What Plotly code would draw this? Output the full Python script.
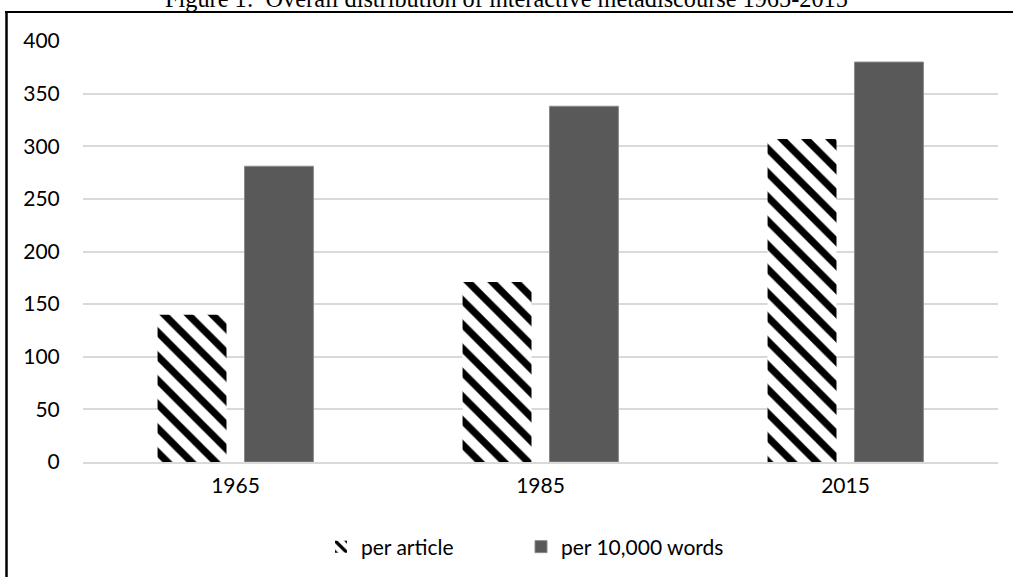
import plotly.graph_objects as go

years = ["1965", "1985", "2015"]
per_article = [140, 171, 307]
per_10000_words = [281, 338, 380]
y_ticks = [0, 50, 100, 150, 200, 250, 300, 350, 400]
title_text = "Figure 1:  Overall distribution of interactive metadiscourse 1965-2015"

W, H = 1013, 577
L, R, T, B = 83, 15, 41, 577 - 462
pw, ph = W - L - R, H - T - B

def px_x(wx):
    return (wx - L) / pw

def px_y(wy):
    return (H - B - wy) / ph

font = "Lato"
fs = 21

fig = go.Figure()
fig.add_trace(go.Bar(
    x=years, y=per_article, name="per article", legend="legend",
    marker=dict(color="white", line=dict(width=0),
                pattern=dict(shape="\\", size=17, solidity=0.42,
                             fgcolor="black", bgcolor="white", fillmode="replace")),
))
fig.add_trace(go.Bar(
    x=years, y=per_10000_words, name="per 10,000 words", legend="legend2",
    marker=dict(color="#595959", line=dict(width=1, color="#8a8a8a")),
))

legend_common = dict(orientation="h", yanchor="middle", xanchor="left",
                     font=dict(family=font, size=fs, color="#000000"),
                     bgcolor="rgba(0,0,0,0)", borderwidth=0)

fig.update_layout(
    width=W, height=H,
    margin=dict(l=L, r=R, t=T, b=B, autoexpand=False),
    paper_bgcolor="white", plot_bgcolor="white",
    barmode="group", bargap=0.43, bargroupgap=0.207,
    font=dict(family=font, size=fs, color="#000000"),
    showlegend=True,
    legend=dict(x=px_x(321), y=px_y(547), **legend_common),
    legend2=dict(x=px_x(521), y=px_y(547), **legend_common),
    xaxis=dict(showgrid=False, showline=True, linecolor="#d9d9d9", linewidth=1.5,
               ticks="outside", ticklen=4, tickcolor="rgba(0,0,0,0)",
               tickfont=dict(family=font, size=fs, color="#000000")),
    yaxis=dict(range=[0, 400], tickvals=y_ticks, showgrid=True, gridcolor="#d9d9d9",
               gridwidth=1.5, zeroline=False, showline=False,
               ticks="outside", ticklen=18, tickcolor="rgba(0,0,0,0)",
               tickfont=dict(family=font, size=fs, color="#000000")),
)

fig.add_annotation(text=title_text, xref="paper", yref="paper",
                   x=px_x(163), y=px_y(14.5), xanchor="left", yanchor="bottom",
                   showarrow=False,
                   font=dict(family="Liberation Serif", size=24.3, color="#000000"))

fig.add_shape(type="line", xref="paper", yref="paper",
              x0=px_x(5), x1=px_x(1100), y0=px_y(12), y1=px_y(12),
              line=dict(color="black", width=2))
fig.add_shape(type="line", xref="paper", yref="paper",
              x0=px_x(6.5), x1=px_x(6.5), y0=px_y(11), y1=px_y(700),
              line=dict(color="black", width=2.5))

fig.write_html("out.html", config={"displayModeBar": False},
               post_script="document.body.style.margin='0px';")
